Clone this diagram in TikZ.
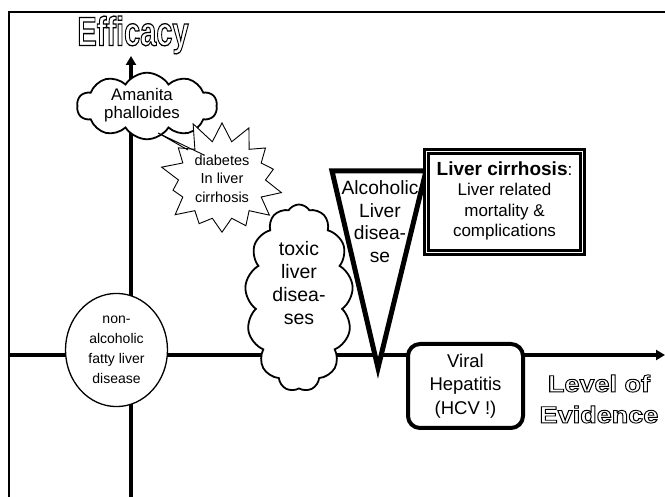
\documentclass[tikz,border=0pt]{standalone}
\usepackage{fontspec}
\setmainfont{Liberation Sans}
\usetikzlibrary{shapes.symbols,shapes.geometric,arrows.meta}
\newcommand\hollow[1]{\special{pdf:literal direct 1 Tr 0.9 w}#1\special{pdf:literal direct 0 Tr}}
\newcommand\stack[1]{\begin{tabular}{@{}c@{}}#1\end{tabular}}
\newcommand\lift[2]{\raisebox{#1}[\height][\depth]{#2}}
\tikzset{frame/.style = {draw, line width=1.4pt},
         axis/.style = {line width=3.2pt, -{Triangle[width=10pt,length=9pt]}},
         puff/.style = {cloud, draw, fill=white, line width=1.8pt, inner sep=0pt, cloud puff arc=115, cloud ignores aspect},
         burst/.style = {starburst, draw, fill=white, line width=0.9pt, inner sep=0pt, starburst points=14, random starburst=11},
         tri/.style = {draw, fill=white, line width=5pt, line join=miter},
         thickbox/.style = {draw, fill=white, rectangle, line width=3.2pt, double=white, double distance=0.8pt},
         roundbox/.style = {draw, fill=white, rectangle, line width=4pt, rounded corners=12pt},
         oval/.style = {draw, fill=white, ellipse, line width=1.3pt, inner sep=0pt},
         bigword/.style = {font=\fontsize{29}{31}\bfseries}}

\begin{document}
\begin{tikzpicture}[x=1pt,y=-1pt]
        \useasboundingbox (0,0) rectangle (665,497);
        % frame and axes
        \coordinate (fl) at (9,497);
        \coordinate (ft) at (9,12);
        \coordinate (fr) at (666,12);
        \draw[frame] (fl) -- (ft) -- (fr);
        \coordinate (yb) at (131,498);
        \coordinate (yt) at (131,56);
        \coordinate (xl) at (9,355);
        \coordinate (xr) at (665,355);
        \draw[axis] (yb) -- (yt);
        \draw[axis] (xl) -- (xr);
        \node[bigword] (eff) at (133,35) {\hollow{\scalebox{1}[1.4]{Efficacy}}};
        \node[font=\fontsize{23.5}{31}\bfseries, align=center] (loe) at (599,399)
            {\hollow{\scalebox{1.15}[1]{Level of}\\\scalebox{1.15}[1]{Evidence}}};
        % diseases
        \node[oval, minimum width=102pt, minimum height=95pt, font=\fontsize{14}{20}\selectfont] (naf)
            at (116.5,350) {\stack{non-\\alcoholic\\fatty liver\\disease}};
        \node[puff, cloud puffs=10, minimum width=140pt, minimum height=64pt,
              font=\fontsize{16.8}{18}\selectfont] (ama) at (147,106)
            {\kern-5pt\stack{Amanita\\phalloides}\kern5pt};
        \node[burst, minimum width=135pt, minimum height=116pt, starburst point height=24pt,
              font=\fontsize{14.5}{18.5}\selectfont] (dia) at (222,180)
            {\stack{diabetes\\In liver\\cirrhosis}};
        \coordinate (tip) at (158,133);
        \coordinate (p1) at (188,150);
        \coordinate (p2) at (204,155);
        \draw[line width=0.9pt] (p1) -- (tip) -- (p2);
        \node[puff, cloud puffs=13, minimum width=108pt, minimum height=187pt,
              font=\fontsize{19.5}{23}\selectfont] (tox) at (299,298)
            {\lift{13pt}{\stack{toxic\\liver\\disea-\\ses}}};
        \coordinate (tl) at (332,171);
        \coordinate (tr) at (426,171);
        \coordinate (tb) at (378,368);
        \draw[tri] (tl) -- (tr) -- (tb) -- cycle;
        \node[font=\fontsize{19.2}{22.7}\selectfont] (alc) at (380,224) {\stack{Alcoholic\\Liver\\disea-\\se}};
        \node[thickbox, minimum width=156pt, minimum height=101pt, font=\fontsize{17}{20.5}\selectfont] (lc)
            at (504.5,202) {\stack{{\fontsize{19}{20.5}\bfseries Liver cirrhosis}:\\Liver related\\mortality \&\\complications}};
        \node[roundbox, minimum width=115pt, minimum height=84pt, font=\fontsize{18.5}{23.5}\selectfont] (vh)
            at (465.5,386) {\stack{Viral\\Hepatitis\\(HCV !)}};
\end{tikzpicture}
\end{document}
